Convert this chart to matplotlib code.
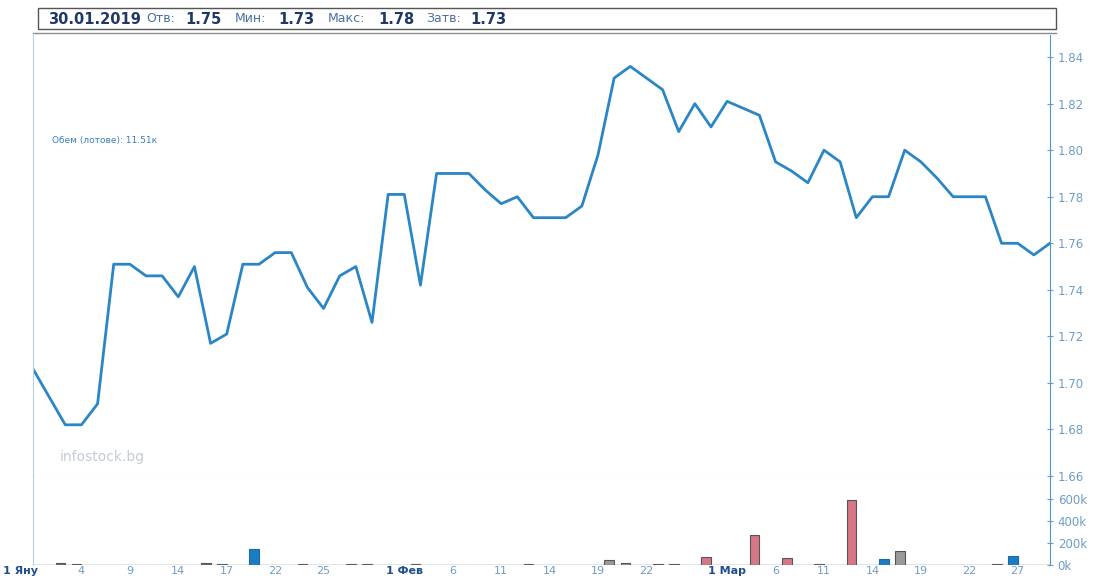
import matplotlib
matplotlib.use("Agg")
import matplotlib.pyplot as plt
import numpy as np

# ---------------- data ----------------
# trading days 1 Jan .. 29 Mar 2019 (index 0 = 1 Jan)
price = [1.706, 1.694, 1.682, 1.682, 1.691, 1.751, 1.751, 1.746, 1.746, 1.737,
         1.750, 1.717, 1.721, 1.751, 1.751, 1.756, 1.756, 1.741, 1.732, 1.746,
         1.750, 1.726, 1.781, 1.781, 1.742, 1.790, 1.790, 1.790, 1.783, 1.777,
         1.780, 1.771, 1.771, 1.771, 1.776, 1.798, 1.831, 1.836, 1.831, 1.826,
         1.808, 1.820, 1.810, 1.821, 1.818, 1.815, 1.795, 1.791, 1.786, 1.800,
         1.795, 1.771, 1.780, 1.780, 1.800, 1.795, 1.788, 1.780, 1.780, 1.780,
         1.760, 1.760, 1.755, 1.760]

vol_idx = [1, 2, 10, 11, 13, 16, 19, 20, 23, 30, 35, 36, 38, 39, 41, 44, 46, 48, 50, 52, 53, 59, 60]
vol_val = [15, 5, 15, 10, 145, 12, 10, 12, 12, 12, 45, 20, 10, 10, 75, 270, 65, 8, 590, 50, 125, 8, 80]
vol_kind = ["s", "s", "s", "s", "b", "s", "s", "s", "s", "s", "g", "g", "s", "s", "p", "p", "p", "s", "p", "b", "g", "s", "b"]

first_lbl = "1 Яну"
xtick_idx = [3, 6, 9, 12, 15, 18, 23, 26, 29, 32, 35, 38, 43, 46, 49, 52, 55, 58, 61]
xtick_lbl = ["4", "9", "14", "17", "22", "25", "1 Фев", "6", "11", "14", "19", "22",
             "1 Мар", "6", "11", "14", "19", "22", "27"]

price_ticks = [1.66, 1.68, 1.70, 1.72, 1.74, 1.76, 1.78, 1.80, 1.82, 1.84]
vol_ticks = [0, 200, 400, 600]
vol_tick_lbl = ["0k", "200k", "400k", "600k"]

header = [("30.01.2019", None), ("Отв:", "1.75"), ("Мин:", "1.73"), ("Макс:", "1.78"), ("Затв:", "1.73")]

# ---------------- style ----------------
W, H = 1096, 580
LINE_C = "#2a86c4"
TICK_C = "#6f9cc6"
MONTH_C = "#1f4f8f"
kind_face = {"s": "#6b6b6b", "b": "#1a7cc2", "g": "#9a9a9a", "p": "#d77785"}
kind_edge = {"s": "#555555", "b": "#1a6aa8", "g": "#555555", "p": "#555555"}
BAR_SHIFT = 0.7

plt.rcParams['font.family'] = ['DejaVu Sans']
fig = plt.figure(figsize=(W / 100, H / 100), dpi=100)

def fx(px):
    return px / W

def fy(py):
    return 1 - py / H

left, right = 33, 1050
p_top, p_bot = 35, 476
v_top, v_bot = 476, 565

ax = fig.add_axes([fx(left), fy(p_bot), fx(right - left), (p_bot - p_top) / H])
axv = fig.add_axes([fx(left), fy(v_bot), fx(right - left), (v_bot - v_top) / H], sharex=ax)

x = np.arange(len(price))
ax.plot(x, price, color=LINE_C, lw=2.0, solid_joinstyle="round")
ax.set_xlim(0, len(price) - 1)
ax.set_ylim(1.66, 1.8495)

for a in (ax, axv):
    a.spines["top"].set_visible(False)
    a.spines["bottom"].set_visible(False)
    a.spines["left"].set_color("#b8d0e8")
    a.spines["right"].set_color("#4a9ad0")
    a.yaxis.tick_right()
    a.tick_params(axis="y", direction="inout", length=5, colors=TICK_C, labelsize=8.5, pad=3)
    a.set_facecolor("none")

ax.set_yticks(price_ticks)
ax.set_yticklabels([f"{v:.2f}" for v in price_ticks])
ax.tick_params(axis="x", bottom=False, labelbottom=False)
ax.axhline(1.66, color="#8aa8c8", lw=0.8, ls=(0, (1, 1.5)))

# volume
for i, v, k in zip(vol_idx, vol_val, vol_kind):
    axv.bar(i + BAR_SHIFT, v, width=0.6, color=kind_face[k], edgecolor=kind_edge[k], lw=0.8)
axv.axhline(0, color="#777777", lw=1.0)
axv.set_ylim(0, 809)
axv.set_yticks(vol_ticks)
axv.set_yticklabels(vol_tick_lbl)
axv.set_xticks(xtick_idx)
axv.set_xticklabels(xtick_lbl)
axv.tick_params(axis="x", length=0, pad=0.5, labelsize=8, colors=TICK_C)
for t in axv.get_xticklabels():
    if " " in t.get_text():
        t.set_color(MONTH_C)
        t.set_fontweight("bold")
fig.text(fx(3), fy(565.5), first_lbl, fontsize=8, fontweight="bold", color=MONTH_C, va="top", ha="left")

# annotations
fig.text(fx(52), fy(141), "Обем (лотове): 11.51к", fontsize=6.5, color="#3a7fbf", va="center")
fig.text(fx(60), fy(457), "infostock.bg", fontsize=10, color="#c4ccd8", va="center")

# header box
hb = plt.Rectangle((fx(38), fy(29)), fx(1056 - 38), (29 - 8) / H, transform=fig.transFigure,
                   fill=False, edgecolor="#555555", lw=1.0)
fig.add_artist(hb)
# main frame top line
fig.add_artist(plt.Line2D([fx(33), fx(1056)], [fy(33), fy(33)], transform=fig.transFigure,
                          color="#8c8c8c", lw=1.0))

positions = [(48, None), (146, 185), (235, 278), (328, 378), (426, 470)]
for (lab, val), (xl, xv) in zip(header, positions):
    if val is None:
        fig.text(fx(xl), fy(19), lab, fontsize=10.5, fontweight="bold", color="#1f3864", va="center")
    else:
        fig.text(fx(xl), fy(19), lab, fontsize=9, color="#4a6fa5", va="center")
        fig.text(fx(xv), fy(19), val, fontsize=10.5, fontweight="bold", color="#1f3864", va="center")

fig.savefig("out.png", dpi=100)
